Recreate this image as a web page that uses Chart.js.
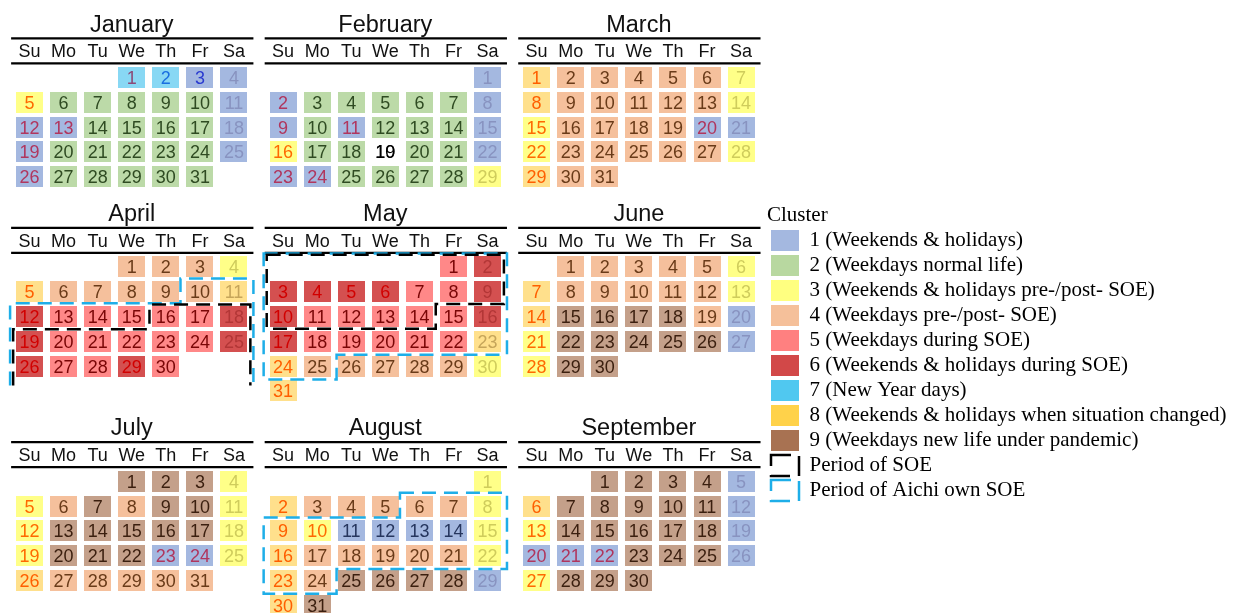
<!DOCTYPE html>
<html>
<head>
<meta charset="utf-8">
<script src="https://cdn.jsdelivr.net/npm/chart.js@4.4.0/dist/chart.umd.min.js"></script>
<style>
  html, body { margin: 0; padding: 0; background: #fff; }
  #wrap { position: relative; width: 1234px; height: 613px; overflow: hidden; }
  #cal { position: absolute; left: 0; top: 0; }
  #leg { position: absolute; left: 767px; top: 205px; }
</style>
</head>
<body>
<div id="wrap">
  <canvas id="cal" width="1234" height="613"></canvas>
  <canvas id="leg" width="467" height="330"></canvas>
</div>
<script>
// calendar of 2020, each day coloured by its cluster
const year = 2020;
const monthNames = ['January', 'February', 'March', 'April', 'May', 'June', 'July', 'August', 'September'];
const weekdayLabels = ['Su', 'Mo', 'Tu', 'We', 'Th', 'Fr', 'Sa'];
const clusterNames = [
  '1 (Weekends & holidays)',
  '2 (Weekdays normal life)',
  '3 (Weekends & holidays pre-/post- SOE)',
  '4 (Weekdays pre-/post- SOE)',
  '5 (Weekdays during SOE)',
  '6 (Weekends & holidays during SOE)',
  '7 (New Year days)',
  '8 (Weekends & holidays when situation changed)',
  '9 (Weekdays new life under pandemic)'
];

// cluster of each day (null = no data)
const clusterJan = [7,7,1,1,3,2,2,2,2,2,1,1,1,2,2,2,2,1,1,2,2,2,2,2,1,1,2,2,2,2,2];
const clusterFeb = [1,1,2,2,2,2,2,1,1,2,1,2,2,2,1,3,2,2,null,2,2,1,1,1,2,2,2,2,3];
const clusterMar = [8,4,4,4,4,4,3,8,4,4,4,4,4,3,3,4,4,4,4,1,1,3,4,4,4,4,4,3,8,4,4];
const clusterApr = [4,4,4,3,8,4,4,4,4,4,8,6,5,5,5,5,5,6,6,5,5,5,5,5,6,6,5,5,6,5];
const clusterMay = [5,6,6,6,6,6,5,5,6,6,5,5,5,5,5,6,6,5,5,5,5,5,8,8,4,4,4,4,4,3,8];
const clusterJun = [4,4,4,4,4,3,8,4,4,4,4,4,3,8,9,9,9,9,4,1,3,9,9,9,9,9,1,3,9,9];
const clusterJul = [9,9,9,3,3,4,9,4,9,9,3,3,9,9,9,9,9,3,3,9,9,9,1,1,3,8,4,4,4,4,4];
const clusterAug = [3,8,4,4,4,4,4,3,8,3,1,1,1,1,3,8,4,4,4,4,4,3,8,4,9,9,9,9,1,8,9];
const clusterSep = [9,9,9,9,1,8,9,9,9,9,9,1,3,9,9,9,9,9,1,1,1,1,9,9,9,1,3,9,9,9];
const clustersByMonth = [clusterJan, clusterFeb, clusterMar, clusterApr, clusterMay,
                         clusterJun, clusterJul, clusterAug, clusterSep];

const holidays = ['1-1','1-13','2-11','2-24','3-20','4-29','5-4','5-5','5-6','7-23','7-24','8-10','9-21','9-22'];
const newYearDays = ['1-2','1-3'];
const soePeriods = [['4-16', '5-14']];
const aichiSoePeriods = [['4-10', '5-25'], ['8-6', '8-24']];

const cellColors = ['#a4b8e0','#bcdaa8','#ffff88','#f5c09c','#ff8888','#d45050','#88d8f4','#ffe08c','#c4a08a'];
const legendColors = ['#a4b8e0','#b8d8a0','#ffff80','#f5c09a','#ff8080','#d24848','#50c8f0','#ffd24a','#a87252'];
const textColors = [
  {hol: '#b0365e', sat: '#8893c0', wd: '#26365e', ny: '#2a3bd0'},
  {wd: '#2f4b22'},
  {hol: '#ff6a00', sat: '#cfcc5c'},
  {wd: '#6a3b19'},
  {wd: '#7a0606'},
  {hol: '#d10000', sat: '#b23636'},
  {hol: '#8c4a78', ny: '#1a6fe0'},
  {hol: '#ff5f00', sat: '#c6a55a'},
  {wd: '#3b1f0f'}
];
const soeBlack = '#000000';
const soeBlue = '#1eaee8';

// grid geometry in scale units (1 x unit = one weekday column, 1 y unit = one week row)
const PANEL_DX = 7.44;
const HEAD_ROWS = 2.64;
const X_MIN = -0.866, X_MAX = 35.343;
const Y_MIN = -3.125, Y_MAX = 21.593;
const FONT = '"Liberation Sans", Arial, sans-serif';

function firstDow(m) { return new Date(year, m, 1).getDay(); }
function daysIn(m) { return new Date(year, m + 1, 0).getDate(); }
function weeks(m) { return Math.ceil((firstDow(m) + daysIn(m)) / 7); }

const panelY = [];
let acc = 0;
for (let pr = 0; pr < 3; pr++) {
  panelY.push(acc);
  acc += Math.max(weeks(3 * pr), weeks(3 * pr + 1), weeks(3 * pr + 2)) + HEAD_ROWS;
}
function panelX(m) { return (m % 3) * PANEL_DX; }

function dayType(m, d) {
  const key = (m + 1) + '-' + d;
  if (newYearDays.includes(key)) return 'ny';
  const dow = new Date(year, m, d).getDay();
  if (holidays.includes(key) || dow === 0) return 'hol';
  if (dow === 6) return 'sat';
  return 'wd';
}

function makeCell(color) {
  const c = document.createElement('canvas');
  c.width = 27; c.height = 21;
  const g = c.getContext('2d');
  g.fillStyle = color;
  g.fillRect(0, 0, 27, 21);
  return c;
}

const clusterData = cellColors.map(() => []);
const missingData = [];
clustersByMonth.forEach((arr, m) => {
  const off = firstDow(m);
  arr.forEach((cl, i) => {
    const slot = off + i;
    const p = {x: panelX(m) + slot % 7, y: panelY[Math.floor(m / 3)] + Math.floor(slot / 7), day: i + 1};
    if (cl === null) {
      p.color = '#000';
      p.missing = true;
      missingData.push(p);
    } else {
      p.color = textColors[cl - 1][dayType(m, i + 1)] || '#000';
      clusterData[cl - 1].push(p);
    }
  });
});

const datasets = clusterNames.map((name, i) => ({
  label: name,
  data: clusterData[i],
  pointStyle: makeCell(cellColors[i]),
  pointRadius: 5
}));
datasets.push({label: 'No data', data: missingData, pointRadius: 0});

// dashed outline of a period, per month, in grid units
function periodOutlines(period, hx, hy) {
  const [sm, sd] = period[0].split('-').map(Number);
  const [em, ed] = period[1].split('-').map(Number);
  const out = [];
  for (let m = sm - 1; m <= em - 1; m++) {
    const s1 = (m === sm - 1) ? firstDow(m) + sd - 1 : 0;
    const r1 = Math.floor(s1 / 7), c1 = s1 % 7;
    let pts, closed;
    if (m === em - 1) {
      const s2 = firstDow(m) + ed - 1;
      const r2 = Math.floor(s2 / 7), c2 = s2 % 7;
      pts = [[c1 - hx, r1 - hy], [6 + hx, r1 - hy], [6 + hx, r2 - 1 + hy], [c2 + hx, r2 - 1 + hy],
             [c2 + hx, r2 + hy], [-hx, r2 + hy], [-hx, r1 + 1 - hy], [c1 - hx, r1 + 1 - hy]];
      closed = true;
    } else {
      const yb = weeks(m) - 1 + 0.78;
      pts = [[-hx, yb], [-hx, r1 + 1 - hy], [c1 - hx, r1 + 1 - hy], [c1 - hx, r1 - hy], [6 + hx, r1 - hy], [6 + hx, yb]];
      closed = false;
    }
    out.push({pts: pts.map(([x, y]) => [x + panelX(m), y + panelY[Math.floor(m / 3)]]), closed});
  }
  return out;
}

const framePlugin = {
  id: 'frame',
  beforeDatasetsDraw(chart) {
    const {ctx, scales: {x, y}} = chart;
    ctx.save();
    monthNames.forEach((name, m) => {
      const x0 = panelX(m), y0 = panelY[Math.floor(m / 3)];
      ctx.fillStyle = '#111';
      ctx.textAlign = 'center';
      ctx.textBaseline = 'alphabetic';
      ctx.font = '23.5px ' + FONT;
      ctx.fillText(name, x.getPixelForValue(x0 + 3), y.getPixelForValue(y0 - 1.85));
      ctx.font = '18px ' + FONT;
      weekdayLabels.forEach((w, c) => {
        ctx.fillText(w, x.getPixelForValue(x0 + c), y.getPixelForValue(y0 - 0.815));
      });
      ctx.strokeStyle = '#000';
      ctx.lineWidth = 2.2;
      [1.58, 0.57].forEach(dy => {
        ctx.beginPath();
        ctx.moveTo(x.getPixelForValue(x0 - 0.54), y.getPixelForValue(y0 - dy));
        ctx.lineTo(x.getPixelForValue(x0 + 6.57), y.getPixelForValue(y0 - dy));
        ctx.stroke();
      });
    });
    ctx.restore();
  },
  afterDatasetsDraw(chart) {
    const {ctx, scales: {x, y}} = chart;
    ctx.save();
    // day numbers
    ctx.font = '18px ' + FONT;
    ctx.textAlign = 'center';
    ctx.textBaseline = 'alphabetic';
    chart.data.datasets.forEach((ds, i) => {
      chart.getDatasetMeta(i).data.forEach((el, j) => {
        const p = ds.data[j];
        ctx.fillStyle = p.color;
        ctx.fillText(String(p.day), el.x, el.y + 6.5);
        if (p.missing) ctx.fillText('10', el.x, el.y + 6.5);
      });
    });
    // SOE periods
    const drawSet = (periods, color, hx, hy) => {
      ctx.strokeStyle = color;
      ctx.lineWidth = 2.5;
      ctx.setLineDash([14, 8]);
      periods.forEach(per => periodOutlines(per, hx, hy).forEach(o => {
        ctx.beginPath();
        o.pts.forEach(([px, py], k) => {
          const X = x.getPixelForValue(px), Y = y.getPixelForValue(py);
          if (k === 0) ctx.moveTo(X, Y); else ctx.lineTo(X, Y);
        });
        if (o.closed) ctx.closePath();
        ctx.stroke();
      }));
    };
    drawSet(aichiSoePeriods, soeBlue, 0.57, 0.54);
    drawSet(soePeriods, soeBlack, 0.48, 0.49);
    ctx.restore();
  }
};

new Chart(document.getElementById('cal'), {
  type: 'scatter',
  data: {datasets: datasets},
  options: {
    responsive: false,
    devicePixelRatio: 1,
    animation: false,
    events: [],
    layout: {padding: 0, autoPadding: false},
    plugins: {legend: {display: false}, tooltip: {enabled: false}},
    scales: {
      x: {type: 'linear', min: X_MIN, max: X_MAX, display: false},
      y: {type: 'linear', min: Y_MIN, max: Y_MAX, reverse: true, display: false}
    }
  },
  plugins: [framePlugin]
});

// legend drawn by a second chart
new Chart(document.getElementById('leg'), {
  type: 'scatter',
  data: {datasets: []},
  options: {
    responsive: false,
    devicePixelRatio: 1,
    animation: false,
    events: [],
    layout: {padding: 0, autoPadding: false},
    scales: {x: {display: false}, y: {display: false}},
    plugins: {
      tooltip: {enabled: false},
      legend: {
        position: 'left',
        align: 'start',
        maxWidth: 467,
        title: {
          display: true,
          text: 'Cluster',
          position: 'start',
          color: '#000',
          padding: 0,
          font: {family: 'Liberation Serif, "Times New Roman", serif', size: 21, lineHeight: 1.0}
        },
        labels: {
          boxWidth: 28,
          boxHeight: 21,
          padding: 4,
          color: '#000',
          font: {family: 'Liberation Serif, "Times New Roman", serif', size: 21},
          generateLabels: () => [
            ...clusterNames.map((n, i) => ({
              text: n, fillStyle: legendColors[i], strokeStyle: legendColors[i], lineWidth: 0, hidden: false
            })),
            {text: 'Period of SOE', fillStyle: 'rgba(0,0,0,0)', strokeStyle: soeBlack, lineWidth: 2.5, lineDash: [20, 9], hidden: false},
            {text: 'Period of Aichi own SOE', fillStyle: 'rgba(0,0,0,0)', strokeStyle: soeBlue, lineWidth: 2.5, lineDash: [20, 9], hidden: false}
          ]
        }
      }
    }
  }
});
</script>
</body>
</html>
